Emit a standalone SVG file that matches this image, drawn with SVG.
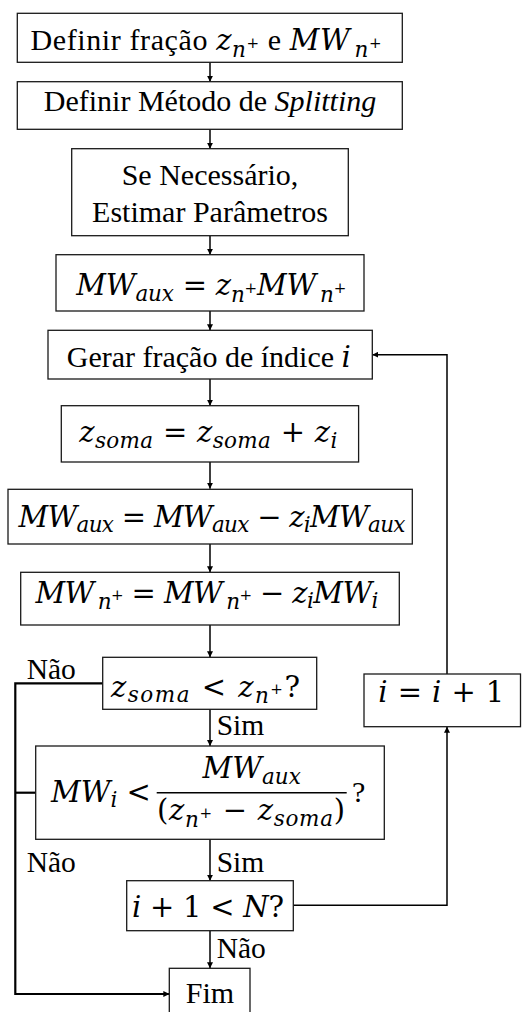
<svg xmlns="http://www.w3.org/2000/svg" width="522" height="1012" viewBox="0 0 522 1012">
  <defs>
    <marker id="arrow" viewBox="0 0 10 10" refX="10" refY="5" markerWidth="6" markerHeight="6" markerUnits="userSpaceOnUse" orient="auto">
      <path d="M0,0 L10,5 L0,10 z" fill="#000"/>
    </marker>
    <style>
      .box { fill: #fff; stroke: #1a1a1a; stroke-width: 1.3; }
      .t { font-family: "Liberation Serif", "Times New Roman", serif; font-size: 30px; fill: #000; }
      .lbl { font-family: "Liberation Serif", "Times New Roman", serif; font-size: 29.5px; fill: #000; }
      .m { font-family: "DejaVu Serif", serif; font-style: italic; font-size: 29px; }
      .op { font-family: "DejaVu Serif", serif; font-style: normal; font-size: 29px; }
      .s { font-family: "DejaVu Serif", serif; font-style: italic; font-size: 21.5px; }
      .p { font-family: "DejaVu Serif", serif; font-style: normal; font-size: 15px; }
      .it { font-style: italic; }
      .conn { fill: none; stroke: #000; stroke-width: 1.5; }
      .conn-thick { fill: none; stroke: #000; stroke-width: 2.2; }
    </style>
  </defs>

  <!-- connectors -->
  <g id="connectors">
    <line class="conn" x1="210" y1="62.3" x2="210" y2="81.7" marker-end="url(#arrow)"/>
    <line class="conn" x1="210" y1="129.3" x2="210" y2="148.7" marker-end="url(#arrow)"/>
    <line class="conn" x1="210" y1="235.7" x2="210" y2="254.7" marker-end="url(#arrow)"/>
    <line class="conn" x1="210" y1="311" x2="210" y2="330.3" marker-end="url(#arrow)"/>
    <line class="conn" x1="210" y1="379" x2="210" y2="405.7" marker-end="url(#arrow)"/>
    <line class="conn" x1="210" y1="462" x2="210" y2="488.7" marker-end="url(#arrow)"/>
    <line class="conn" x1="210" y1="544" x2="210" y2="572.3" marker-end="url(#arrow)"/>
    <line class="conn" x1="210" y1="625" x2="210" y2="657.3" marker-end="url(#arrow)"/>
    <line class="conn" x1="210" y1="709.3" x2="210" y2="746" marker-end="url(#arrow)"/>
    <line class="conn" x1="210" y1="839.3" x2="210" y2="880.7" marker-end="url(#arrow)"/>
    <line class="conn" x1="210" y1="930.7" x2="210" y2="968.3" marker-end="url(#arrow)"/>
    <!-- "Não" branches to Fim -->
    <path class="conn-thick" d="M102.7,683.3 H15.3 V994 H169.3" marker-end="url(#arrow)"/>
    <line class="conn-thick" x1="35.7" y1="792.7" x2="15.3" y2="792.7"/>
    <!-- loop back -->
    <path class="conn" d="M293.3,905.3 H447 V726.7" marker-end="url(#arrow)"/>
    <path class="conn" d="M447,674 V354.7 H372.3" marker-end="url(#arrow)"/>
    <!-- branch labels -->
    <text class="lbl" x="26.7" y="679">Não</text>
    <text class="lbl" x="216.7" y="735">Sim</text>
    <text class="lbl" x="26.7" y="871.5">Não</text>
    <text class="lbl" x="216.7" y="872">Sim</text>
    <text class="lbl" x="216.7" y="958.3">Não</text>
  </g>

  <g id="n1">
    <rect class="box" x="17.3" y="13.3" width="385" height="49"/>
    <text class="t" x="206" y="50" text-anchor="middle" textLength="351" lengthAdjust="spacing">Definir fração <tspan class="m">z</tspan><tspan class="s" dy="6.5">n</tspan><tspan class="p" dy="-9">+</tspan><tspan dy="2.5"> e </tspan><tspan class="m">MW</tspan><tspan class="s" dy="6.5" dx="4">n</tspan><tspan class="p" dy="-9">+</tspan></text>
  </g>

  <g id="n2">
    <rect class="box" x="17.3" y="81.7" width="385" height="47.6"/>
    <text class="t" x="210" y="110.7" text-anchor="middle">Definir Método de <tspan class="it">Splitting</tspan></text>
  </g>

  <g id="n3">
    <rect class="box" x="71.7" y="148.7" width="276.6" height="87"/>
    <text class="t" x="210" y="185" text-anchor="middle">Se Necessário,</text>
    <text class="t" x="210" y="222" text-anchor="middle">Estimar Parâmetros</text>
  </g>

  <g id="n4">
    <rect class="box" x="56" y="254.7" width="308" height="56.3"/>
    <text class="t" x="211.3" y="295" text-anchor="middle" textLength="270" lengthAdjust="spacing"><tspan class="m">MW</tspan><tspan class="s" dy="5.5">aux</tspan><tspan class="op" dy="-5.5"> = </tspan><tspan class="m">z</tspan><tspan class="s" dy="6.5">n</tspan><tspan class="p" dy="-9">+</tspan><tspan class="m" dy="2.5">MW</tspan><tspan class="s" dy="6.5" dx="4">n</tspan><tspan class="p" dy="-9">+</tspan></text>
  </g>

  <g id="n5">
    <rect class="box" x="48" y="330.3" width="324.3" height="48.7"/>
    <text class="t" x="208.8" y="366.7" text-anchor="middle">Gerar fração de índice <tspan class="m">i</tspan></text>
  </g>

  <g id="n6">
    <rect class="box" x="61.3" y="405.7" width="297.3" height="56.3"/>
    <text class="t" x="208.3" y="442.3" text-anchor="middle" textLength="258" lengthAdjust="spacing"><tspan class="m">z</tspan><tspan class="s" dy="5.5">soma</tspan><tspan class="op" dy="-5.5"> = </tspan><tspan class="m">z</tspan><tspan class="s" dy="5.5">soma</tspan><tspan class="op" dy="-5.5"> + </tspan><tspan class="m">z</tspan><tspan class="s" dy="5.5">i</tspan></text>
  </g>

  <g id="n7">
    <rect class="box" x="8" y="489.3" width="404.3" height="54.7"/>
    <text class="t" x="212" y="526.7" text-anchor="middle" textLength="387" lengthAdjust="spacing"><tspan class="m">MW</tspan><tspan class="s" dy="5.5">aux</tspan><tspan class="op" dy="-5.5"> = </tspan><tspan class="m">MW</tspan><tspan class="s" dy="5.5">aux</tspan><tspan class="op" dy="-5.5"> − </tspan><tspan class="m">z</tspan><tspan class="s" dy="5.5">i</tspan><tspan class="m" dy="-5.5">MW</tspan><tspan class="s" dy="5.5">aux</tspan></text>
  </g>

  <g id="n8">
    <rect class="box" x="20.7" y="572.3" width="378.6" height="52.7"/>
    <text class="t" x="207" y="602.7" text-anchor="middle" textLength="343" lengthAdjust="spacing"><tspan class="m">MW</tspan><tspan class="s" dy="6.5" dx="4">n</tspan><tspan class="p" dy="-9">+</tspan><tspan class="op" dy="2.5"> = </tspan><tspan class="m">MW</tspan><tspan class="s" dy="6.5" dx="4">n</tspan><tspan class="p" dy="-9">+</tspan><tspan class="op" dy="2.5"> − </tspan><tspan class="m">z</tspan><tspan class="s" dy="5.5">i</tspan><tspan class="m" dy="-5.5">MW</tspan><tspan class="s" dy="5.5">i</tspan></text>
  </g>

  <g id="n9">
    <rect class="box" x="102.7" y="657.3" width="214" height="52"/>
    <text class="t" x="205.5" y="696.7" text-anchor="middle" textLength="189" lengthAdjust="spacing"><tspan class="m">z</tspan><tspan class="s" dy="5.5">soma</tspan><tspan class="op" dy="-5.5"> &lt; </tspan><tspan class="m">z</tspan><tspan class="s" dy="6.5">n</tspan><tspan class="p" dy="-9">+</tspan><tspan class="op" dy="2.5">?</tspan></text>
  </g>

  <g id="n10">
    <rect class="box" x="35.7" y="746" width="348.6" height="93.3"/>
    <text class="t" x="51" y="801.7"><tspan class="m">MW</tspan><tspan class="s" dy="5.5">i</tspan><tspan class="op" dy="-5.5"> &lt;</tspan></text>
    <text class="t" x="251.7" y="778.3" text-anchor="middle"><tspan class="m">MW</tspan><tspan class="s" dy="5.5">aux</tspan></text>
    <line x1="156.7" y1="792.7" x2="346.7" y2="792.7" stroke="#000" stroke-width="1.5"/>
    <text class="t" x="251" y="820" text-anchor="middle" textLength="188" lengthAdjust="spacing"><tspan class="op">(</tspan><tspan class="m">z</tspan><tspan class="s" dy="6.5">n</tspan><tspan class="p" dy="-9">+</tspan><tspan class="op" dy="2.5"> − </tspan><tspan class="m">z</tspan><tspan class="s" dy="5.5">soma</tspan><tspan class="op" dy="-5.5">)</tspan></text>
    <text class="t" x="352" y="801.7">?</text>
  </g>

  <g id="n11">
    <rect class="box" x="126.7" y="880.7" width="166.6" height="50"/>
    <text class="t" x="208" y="916.7" text-anchor="middle" textLength="152" lengthAdjust="spacing"><tspan class="m">i</tspan><tspan class="op"> + 1 &lt; </tspan><tspan class="m">N</tspan><tspan class="op">?</tspan></text>
  </g>

  <g id="n12">
    <rect class="box" x="169.3" y="968.3" width="80.7" height="50"/>
    <text class="t" x="210" y="1002.7" text-anchor="middle">Fim</text>
  </g>

  <g id="n13">
    <rect class="box" x="364" y="674" width="156.5" height="52.7"/>
    <text class="t" x="441.3" y="701.7" text-anchor="middle" textLength="126" lengthAdjust="spacing"><tspan class="m">i</tspan><tspan class="op"> = </tspan><tspan class="m">i</tspan><tspan class="op"> + 1</tspan></text>
  </g>
</svg>
